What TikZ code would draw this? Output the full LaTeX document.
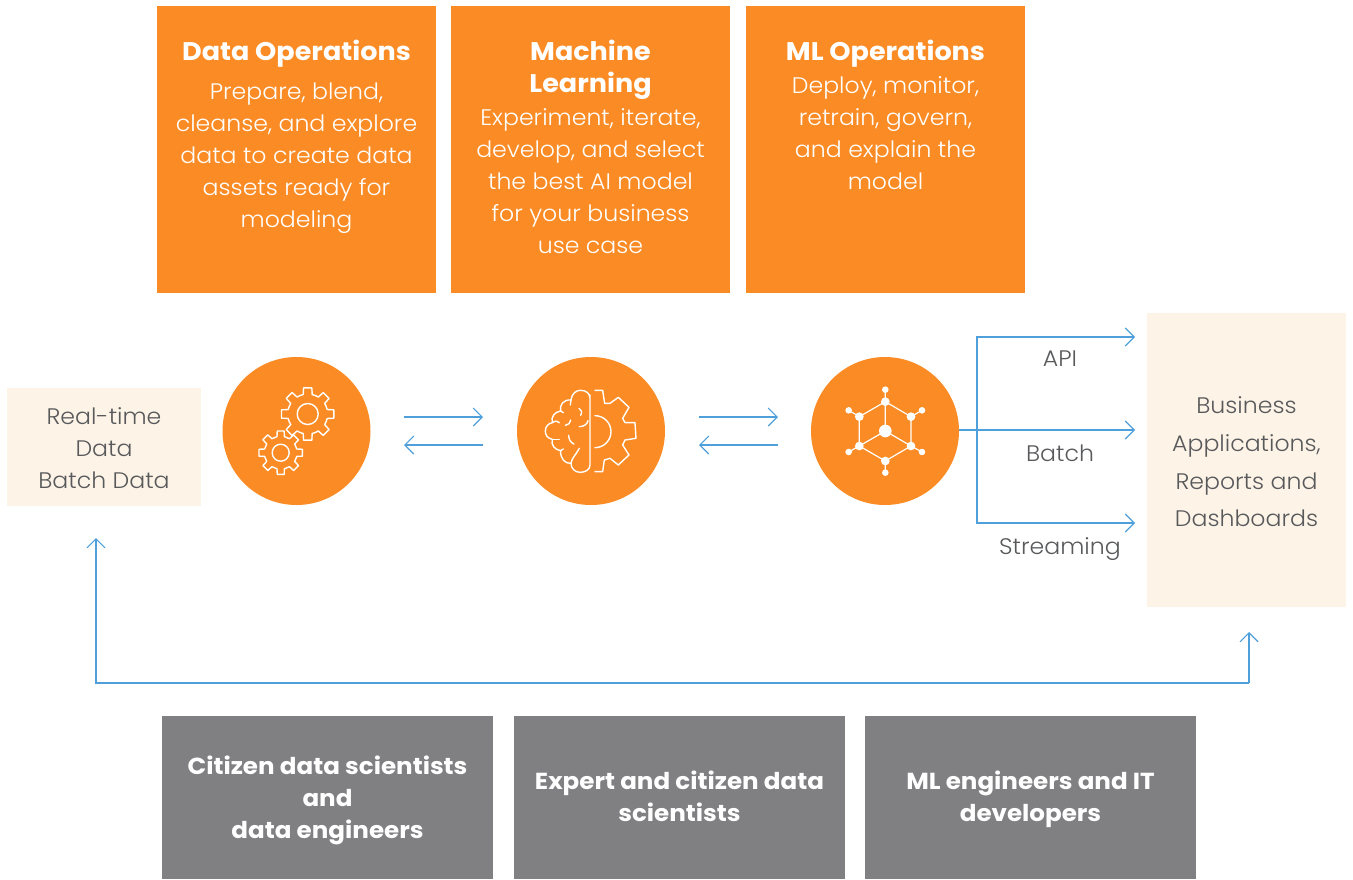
\documentclass[tikz,border=0pt]{standalone}
\usepackage{fontspec}
\setmainfont{Poppins}[UprightFont=* Light,BoldFont=* Bold,UprightFeatures={FakeStretch=1.05},BoldFeatures={FakeStretch=1.06}]
\usetikzlibrary{arrows.meta}
\definecolor{orangebox}{HTML}{FB8B24}
\definecolor{creambox}{HTML}{FDF3E7}
\definecolor{greybox}{HTML}{808082}
\definecolor{flow}{HTML}{4F9FDB}
\definecolor{inktext}{HTML}{58595B}
\tikzset{
  panel/.style={anchor=north west,inner sep=0,outer sep=0},
  orangepanel/.style={panel,fill=orangebox},
  greypanel/.style={panel,fill=greybox,minimum width=331pt,minimum height=163pt},
  creampanel/.style={panel,fill=creambox},
  disc/.style={circle,fill=orangebox,minimum size=148pt,inner sep=0,outer sep=0},
  headtxt/.style={text=white,align=center,font=\fontsize{25.5}{32}\selectfont\bfseries},
  bodytxt/.style={text=white,align=center,font=\fontsize{22.5}{32}\selectfont},
  roletxt/.style={text=white,align=center,font=\fontsize{23.2}{32}\selectfont\bfseries},
  inktxt/.style={text=inktext,align=center,font=\fontsize{22.5}{32}\selectfont},
  flowline/.style={draw=flow,line width=1.1pt,-{Straight Barb[length=9pt,width=18pt,line width=1.1pt]}},
  icon/.style={draw=white,line width=1.4pt,line join=round,line cap=round},
  dot/.style={circle,fill=white,inner sep=0,outer sep=0}
}
% gear: #1,#2 centre, #3 outer radius, #4 root radius, #5 hole radius
\newcommand{\gearicon}[5]{%
  \begin{scope}[shift={(#1,#2)}]
    \draw[icon]
      \foreach \k in {0,45,...,315}{
        {\ifnum\k=0 (\k-13:#4)\else -- (\k-13:#4)\fi} -- (\k-9:#3) -- (\k+9:#3) -- (\k+13:#4) arc[start angle=\k+13,end angle=\k+32,radius=#4]
      } -- cycle;
    \draw[icon] (0,0) circle[radius=#5];
  \end{scope}}
\begin{document}
\begin{tikzpicture}[x=1pt,y=-1pt]
\useasboundingbox (0,0) rectangle (1353,879);
% top panels
\node[orangepanel,minimum width=279pt,minimum height=287pt] (opsbox) at (157,6) {};
\node[orangepanel,minimum width=279pt,minimum height=287pt] (mlbox) at (451,6) {};
\node[orangepanel,minimum width=279pt,minimum height=287pt] (mlopsbox) at (746,6) {};
\node[headtxt] (opshead) at (296.5,54) {Data Operations};
\node[bodytxt] (opsbody) at (296.5,158) {Prepare, blend,\\cleanse, and explore\\data to create data\\assets ready for\\modeling};
\node[headtxt] (mlhead) at (590.5,70) {Machine\\Learning};
\node[bodytxt] (mlbody) at (590.5,181) {Experiment, iterate,\\develop, and select\\the best AI model\\for your business\\use case};
\node[headtxt] (mlopshead) at (885.5,54) {ML Operations};
\node[bodytxt] (mlopsbody) at (885.5,133) {Deploy, monitor,\\retrain, govern,\\and explain the\\model};
% cream panels
\node[creampanel,minimum width=194pt,minimum height=118pt] (source) at (7,388) {};
\node[inktxt] (sourcetxt) at (104,448) {Real-time\\Data\\Batch Data};
\node[creampanel,minimum width=199pt,minimum height=294pt] (biz) at (1147,313) {};
\node[inktxt,font=\fontsize{22.5}{37.6}\selectfont] (biztxt) at (1246.5,462) {Business\\Applications,\\Reports and\\Dashboards};
% discs
\node[disc] (d1) at (296.5,431) {};
\node[disc] (d2) at (591,431) {};
\node[disc] (d3) at (885,431) {};
% gears
\gearicon{307.7}{414}{26.5}{20}{10.5}
\gearicon{280.7}{452.7}{22}{16.5}{8.5}
% brain + gear
\begin{scope}[shift={(510,350)},x=0.3333pt,y=-0.3333pt]
  \draw[icon] (240,135) -- (240,345)
    .. controls (240,360) and (225,367) .. (210,367)
    .. controls (195,367) and (183,355) .. (183,340)
    .. controls (165,342) and (150,325) .. (152,302)
    .. controls (135,300) and (122,285) .. (127,268)
    .. controls (112,265) and (106,255) .. (106,243)
    .. controls (106,230) and (115,220) .. (127,218)
    .. controls (122,200) and (135,185) .. (152,183)
    .. controls (148,165) and (160,148) .. (183,150)
    .. controls (185,130) and (200,120) .. (212,121)
    .. controls (228,121) and (240,130) .. (240,145);
  \draw[icon] (127,218) .. controls (135,212) and (145,212) .. (148,218);
  \draw[icon] (152,183) -- (160,188);
  \draw[icon] (183,150) -- (181,165);
  \draw[icon] (207,175) .. controls (215,178) and (217,188) .. (212,196);
  \draw[icon] (208,230) .. controls (222,230) and (232,222) .. (234,212);
  \draw[icon] (182,210) .. controls (182,218) and (175,226) .. (166,226);
  \draw[icon] (127,268) -- (148,268);
  \draw[icon] (176,256) .. controls (176,268) and (182,278) .. (192,282);
  \draw[icon] (152,302) -- (160,297);
  \draw[icon] (183,340) .. controls (185,325) and (195,318) .. (208,295);
  \draw[icon] (255,121) -- (278,121) -- (284,160) -- (300,160) -- (325,142) -- (357,172) -- (338,205) -- (345,218) -- (375,218) -- (378,265) -- (345,270) -- (338,285) -- (357,315) -- (325,345) -- (300,325) -- (283,330) -- (278,365) -- (255,365);
  \draw[icon] (255,197) arc[start angle=-90,end angle=90,radius=48];
\end{scope}
% molecule
\begin{scope}[shift={(800,320)},x=0.3333pt,y=-0.3333pt]
  \draw[icon,line width=1.2pt] (256,245) -- (333,290) -- (333,378) -- (256,423) -- (178,378) -- (178,290) -- cycle;
  \draw[icon,line width=1.2pt] (256,333) -- (256,245) (256,333) -- (178,378) (256,333) -- (333,378);
  \draw[icon,line width=1.2pt] (256,245) -- (256,209) (333,290) -- (366,271) (333,378) -- (366,396) (256,423) -- (256,458) (178,378) -- (146,396) (178,290) -- (146,271);
  \foreach \i/\p/\q in {a/256/333}{\node[dot,minimum size=12.7pt] (hub\i) at (\p,\q) {};}
  \foreach \i/\p/\q in {a/256/245,b/333/290,c/333/378,d/256/423,e/178/378,f/178/290}{\node[dot,minimum size=8.7pt] (vert\i) at (\p,\q) {};}
  \foreach \i/\p/\q in {a/256/209,b/366/271,c/366/396,d/256/458,e/146/396,f/146/271}{\node[dot,minimum size=6.6pt] (tip\i) at (\p,\q) {};}
\end{scope}
% free ends
\coordinate (a1s) at (404,417); \coordinate (a1e) at (483,417);
\coordinate (a2s) at (483,445); \coordinate (a2e) at (404,445);
\coordinate (a3s) at (699,417); \coordinate (a3e) at (778,417);
\coordinate (a4s) at (778,445); \coordinate (a4e) at (699,445);
\coordinate (apiend) at (1135,337);
\coordinate (batchend) at (1135,430);
\coordinate (streamend) at (1135,523);
\coordinate (fork) at (977,430);
\coordinate (srcend) at (96,538);
\coordinate (bizend) at (1249,632);
\draw[flowline] (a1s) -- (a1e);
\draw[flowline] (a2s) -- (a2e);
\draw[flowline] (a3s) -- (a3e);
\draw[flowline] (a4s) -- (a4e);
\draw[flowline] (d3.east |- batchend) -- (batchend);
\draw[flowline] (fork) -- (fork |- apiend) -- (apiend);
\draw[flowline] (fork) -- (fork |- streamend) -- (streamend);
\draw[flowline] (bizend |- 0,683) -- (bizend);
\draw[flowline] (bizend |- 0,683) -- (srcend |- 0,683) -- (srcend);
% labels
\node[inktxt] (apitxt) at (1060,359) {API};
\node[inktxt] (batchtxt) at (1060,453) {Batch};
\node[inktxt] (streamtxt) at (1060,549) {Streaming};
% grey panels
\node[greypanel] (role1) at (162,716) {};
\node[greypanel] (role2) at (514,716) {};
\node[greypanel] (role3) at (865,716) {};
\node[roletxt] (role1txt) at (327.5,800) {Citizen data scientists\\and\\data engineers};
\node[roletxt] (role2txt) at (679.5,796.5) {Expert and citizen data\\scientists};
\node[roletxt] (role3txt) at (1030.5,799.5) {ML engineers and IT\\developers};
\end{tikzpicture}
\end{document}
